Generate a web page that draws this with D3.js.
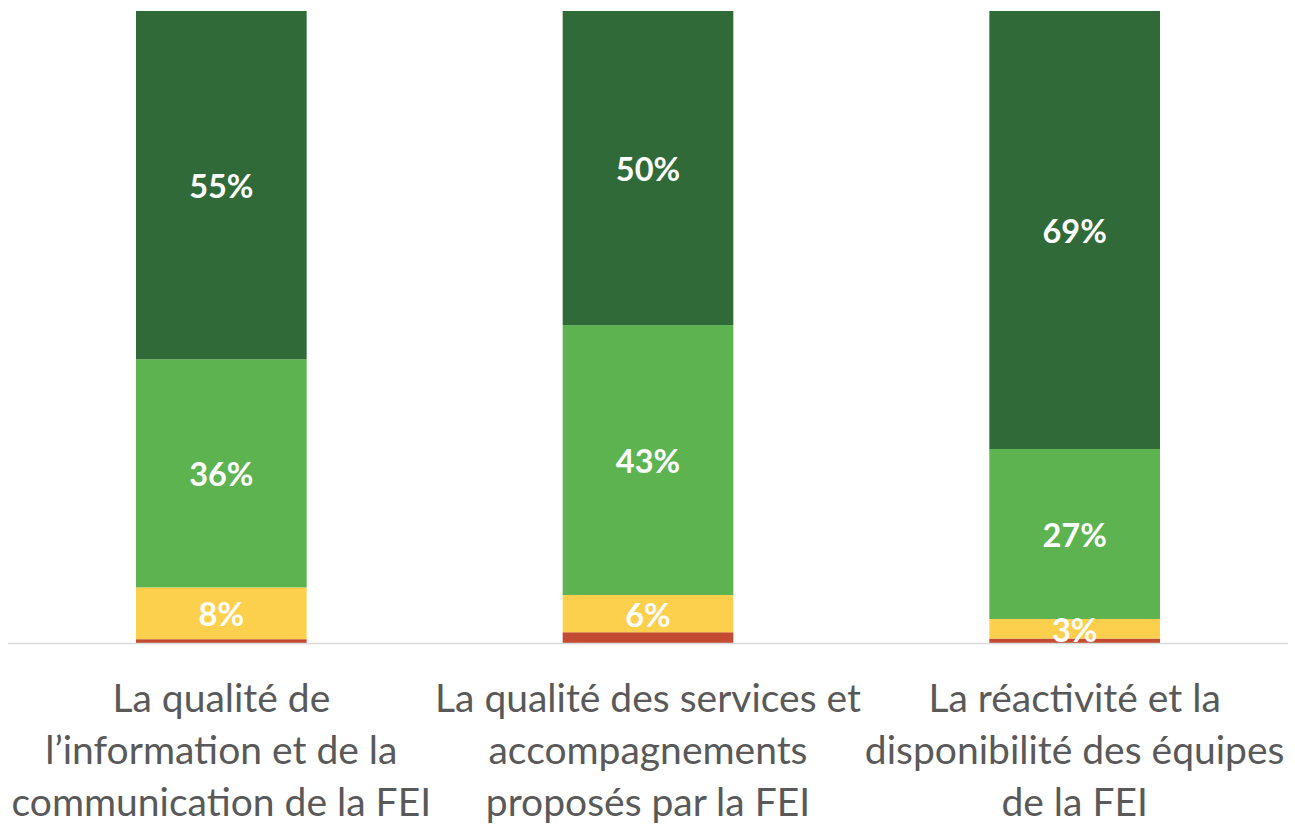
<!DOCTYPE html>
<html>
<head>
<meta charset="utf-8">
<script src="https://cdn.jsdelivr.net/npm/d3@7"></script>
<style>
html,body{margin:0;padding:0;background:#fff;}
svg{display:block;}
</style>
</head>
<body>
<svg id="chart" width="1295" height="824"></svg>
<script>
// Data
const categories = [
  ["La qualité de", "l’information et de la", "communication de la FEI"],
  ["La qualité des services et", "accompagnements", "proposés par la FEI"],
  ["La réactivité et la", "disponibilité des équipes", "de la FEI"]
];
const seriesNames = ["Pas satisfait", "Peu satisfait", "Satisfait", "Très satisfait"];
const redValues = [0.6, 1.7, 0.7];
const yellowValues = [8.2, 5.9, 3.1];
const lightGreenValues = [36.1, 42.7, 26.9];
const darkGreenValues = [55.1, 49.7, 69.3];
const seriesColors = ["#C44C33", "#FCCF4D", "#5DB350", "#2F6A38"];
const showLabel = [false, true, true, true];

const series = [redValues, yellowValues, lightGreenValues, darkGreenValues];
const table = categories.map((c, i) => {
  const row = {key: i};
  series.forEach((s, j) => row["s" + j] = s[i]);
  return row;
});
const keys = series.map((s, j) => "s" + j);
const stacked = d3.stack().keys(keys)(table);

const svg = d3.select("#chart");
const plotLeft = 8, plotRight = 1288, plotTop = 11, plotBottom = 643;

const x = d3.scaleBand().domain(d3.range(categories.length))
  .range([plotLeft, plotRight]).paddingInner(0.6).paddingOuter(0.3);
const y = d3.scaleLinear().domain([0, 100]).range([plotBottom, plotTop]);

const layers = svg.append("g").selectAll("g").data(stacked).join("g")
  .attr("fill", (d, j) => seriesColors[j]);
layers.selectAll("rect").data(d => d).join("rect")
  .attr("x", (d, i) => x(i))
  .attr("width", x.bandwidth())
  .attr("y", d => y(d[1]))
  .attr("height", d => y(d[0]) - y(d[1]));

// axis baseline
svg.append("line")
  .attr("x1", plotLeft).attr("x2", plotRight)
  .attr("y1", y(0) + 0.5).attr("y2", y(0) + 0.5)
  .attr("stroke", "#D9D9D9").attr("stroke-width", 1.5);

// value labels
stacked.forEach((layer, j) => {
  if (!showLabel[j]) return;
  svg.append("g").selectAll("text").data(layer).join("text")
    .attr("x", (d, i) => x(i) + x.bandwidth() / 2)
    .attr("y", d => (y(d[0]) + y(d[1])) / 2)
    .attr("dy", "0.4em")
    .attr("text-anchor", "middle")
    .attr("fill", "#fff")
    .attr("font-family", "Lato, 'Open Sans', sans-serif")
    .attr("font-weight", "bold")
    .attr("font-size", 32.5)
    .text(d => Math.round(d[1] - d[0]) + "%");
});

// category labels
const catG = svg.append("g");
categories.forEach((lines, i) => {
  const t = catG.append("text")
    .attr("text-anchor", "middle")
    .attr("fill", "#595959")
    .attr("font-family", "Lato, 'Open Sans', sans-serif")
    .attr("font-size", 39);
  lines.forEach((ln, k) => {
    t.append("tspan")
      .attr("x", x(i) + x.bandwidth() / 2)
      .attr("y", 712 + k * 52)
      .text(ln);
  });
});
</script>
</body>
</html>
